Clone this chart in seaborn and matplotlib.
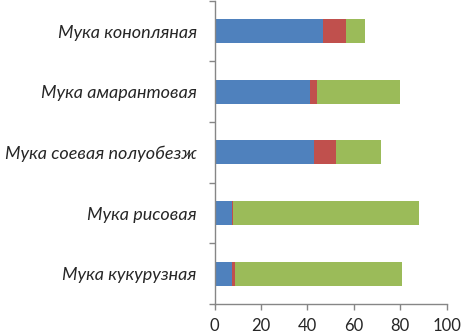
import matplotlib
matplotlib.use('Agg')
import matplotlib.pyplot as plt
import numpy as np
import pandas as pd
import seaborn as sns

categories = [
    'Мука конопляная',
    'Мука амарантовая',
    'Мука соевая полуобезж',
    'Мука рисовая',
    'Мука кукурузная',
]
blue_vals = [46.5, 41.2, 42.9, 7.5, 7.3]
red_vals = [10.1, 2.8, 9.4, 0.5, 1.3]
green_vals = [8.2, 35.9, 19.2, 80.2, 72.3]
x_ticks = [0, 20, 40, 60, 80, 100]

colors = ['#4F81BD', '#C0504D', '#9BBB59']
axis_color = '#868686'

sns.set_theme(style='white')
plt.rcParams['font.family'] = ['Lato', 'DejaVu Sans']

df = pd.DataFrame({
    'cat': categories,
    'blue': blue_vals,
    'red': red_vals,
    'green': green_vals,
})
df['c1'] = df['blue']
df['c2'] = df['blue'] + df['red']
df['c3'] = df['c2'] + df['green']

fig = plt.figure(figsize=(4.61, 3.35), dpi=100)
ax = fig.add_axes([0.4657, 0.0925, 0.5033, 0.9055])

# draw longest stack first, shorter ones on top
for col, color in zip(['c3', 'c2', 'c1'], colors[::-1]):
    sns.barplot(data=df, x=col, y='cat', order=categories, color=color,
                width=0.4, saturation=1, linewidth=0, ax=ax, orient='h')

ax.set_xlim(0, 100)
ax.set_ylim(4.5, -0.5)
ax.set_xticks(x_ticks)
ax.set_xlabel('')
ax.set_ylabel('')

ax.set_yticks(np.arange(len(categories)))
ax.set_yticklabels(categories, fontstyle='italic', fontsize=13)
ax.set_yticks(np.arange(-0.5, len(categories), 1.0), minor=True)
ax.tick_params(axis='y', which='major', length=0, pad=13)
ax.tick_params(axis='y', which='minor', length=4, width=1,
               color=axis_color, direction='out', left=True)
ax.tick_params(axis='x', length=4, width=1, color=axis_color,
               direction='out', bottom=True, labelsize=12, pad=6)

for side in ['top', 'right']:
    ax.spines[side].set_visible(False)
for side in ['left', 'bottom']:
    ax.spines[side].set_color(axis_color)
    ax.spines[side].set_linewidth(1)

plt.savefig('out.png', dpi=100)
plt.close()
